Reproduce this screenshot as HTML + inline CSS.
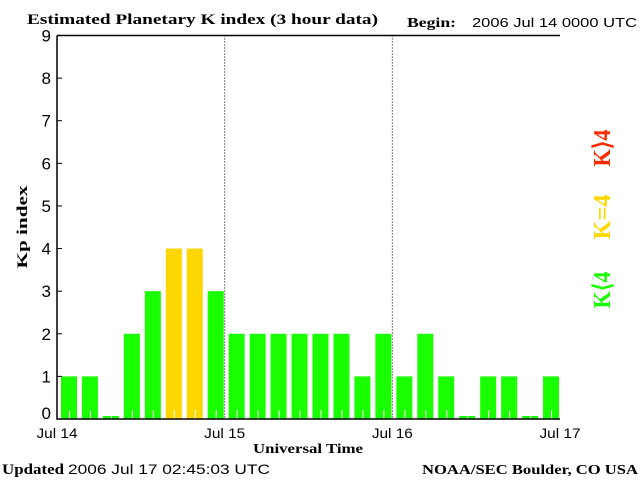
<!DOCTYPE html>
<html><head><meta charset="utf-8"><style>
html,body{margin:0;padding:0;background:#fff;}
svg{display:block;}
.serif{font-family:"Liberation Serif",serif;font-weight:bold;}
.sans{font-family:"Liberation Sans",sans-serif;}
</style></head><body>
<svg id="chart" width="640" height="480" viewBox="0 0 640 480">
<text class="serif" x="27" y="24" font-size="15" textLength="351" lengthAdjust="spacingAndGlyphs">Estimated Planetary K index (3 hour data)</text>
<text class="serif" x="407" y="27" font-size="14" textLength="49" lengthAdjust="spacingAndGlyphs">Begin:</text>
<text class="sans" x="472" y="27" font-size="13" textLength="165" lengthAdjust="spacingAndGlyphs">2006 Jul 14 0000 UTC</text>
<text class="serif" x="2" y="474" font-size="15" textLength="62" lengthAdjust="spacingAndGlyphs">Updated</text>
<text class="sans" x="68" y="474" font-size="14" textLength="202" lengthAdjust="spacingAndGlyphs">2006 Jul 17 02:45:03 UTC</text>
<text class="serif" x="422" y="474" font-size="14" textLength="216" lengthAdjust="spacingAndGlyphs">NOAA/SEC Boulder, CO USA</text>
<text class="serif" x="253" y="453" font-size="14" textLength="110" lengthAdjust="spacingAndGlyphs">Universal Time</text>
<text class="serif" x="0" y="0" font-size="15" textLength="83" lengthAdjust="spacingAndGlyphs" text-anchor="middle" transform="translate(27,227) rotate(-90)">Kp index</text>
<text class="serif" x="0" y="0" font-size="24" font-weight="normal" fill="#ff2a00" textLength="37" lengthAdjust="spacingAndGlyphs" text-anchor="middle" transform="translate(610,148) rotate(-90)">K⟩4</text>
<text class="serif" x="0" y="0" font-size="24" font-weight="normal" fill="#ffd700" textLength="45" lengthAdjust="spacingAndGlyphs" text-anchor="middle" transform="translate(610,217) rotate(-90)">K=4</text>
<text class="serif" x="0" y="0" font-size="24" font-weight="normal" fill="#19ff00" textLength="37" lengthAdjust="spacingAndGlyphs" text-anchor="middle" transform="translate(610,290) rotate(-90)">K⟨4</text>
<g id="grid"></g>
<g id="bars"></g>
<g id="axes"></g>
</svg>
<script>
const values = [1,1,0,2,3,4,4,3, 2,2,2,2,2,2,1,2, 1,2,1,0,1,1,0,1];
const yTicks = [0,1,2,3,4,5,6,7,8,9];
const dayLabels = ["Jul 14","Jul 15","Jul 16","Jul 17"];

const NS="http://www.w3.org/2000/svg";
const X0=57,X1=560,Y0=419,Y9=35.5;
const slot=(X1-X0)/values.length;
const xs=i=>X0+i*slot;
const ys=v=>Y0-(Y0-Y9)*v/9;
function mk(tag,attrs,parent){const e=document.createElementNS(NS,tag);for(const k in attrs)e.setAttribute(k,attrs[k]);parent.appendChild(e);return e;}
const bars=document.getElementById('bars'),axes=document.getElementById('axes'),grid=document.getElementById('grid');

dayLabels.forEach((d,i)=>{
  const x=X0+i*(X1-X0)/(dayLabels.length-1);
  if(i>0&&i<dayLabels.length-1){
    const l=mk('line',{x1:x,x2:x,y1:Y9,y2:Y0,stroke:'#000','stroke-width':1,'stroke-dasharray':'1,2'},grid);
    
    
  }
  const t=mk('text',{x:x,y:438,'font-size':14,'text-anchor':'middle',class:'sans',textLength:41,lengthAdjust:'spacingAndGlyphs'},axes);
  t.textContent=d;
  
  
});

values.forEach((v,i)=>{
  const color=v>4?'#ff2a00':(v===4?'#ffd700':'#19ff00');
  const top=v===0?Y0-3:ys(v);
  const r=mk('rect',{x:xs(i)+4,y:top,width:16,height:Y0-top,fill:color},bars);
  
  
  const tk=mk('line',{x1:xs(i)+12.5,x2:xs(i)+12.5,y1:Y0-9,y2:Y0,stroke:'#fff','stroke-width':1},bars);
  
  
});

yTicks.forEach(v=>{
  const y=ys(v);
  const l=mk('line',{x1:X0,x2:X0+5,y1:y,y2:y,stroke:'#000','stroke-width':1},axes);
  
  
  const t=mk('text',{x:51,y:v===0?419:y+6,'font-size':17,'text-anchor':'end',class:'sans'},axes);
  t.textContent=v;
  
  
});

const frame=mk('polyline',{points:`${X0},${Y9} ${X0},${Y0} ${X1},${Y0}`,fill:'none',stroke:'#000','stroke-width':1.5},axes);


const topLine=mk('line',{x1:X0,x2:X1,y1:Y9,y2:Y9,stroke:'#000','stroke-width':1.5},axes);


</script>
</body></html>
